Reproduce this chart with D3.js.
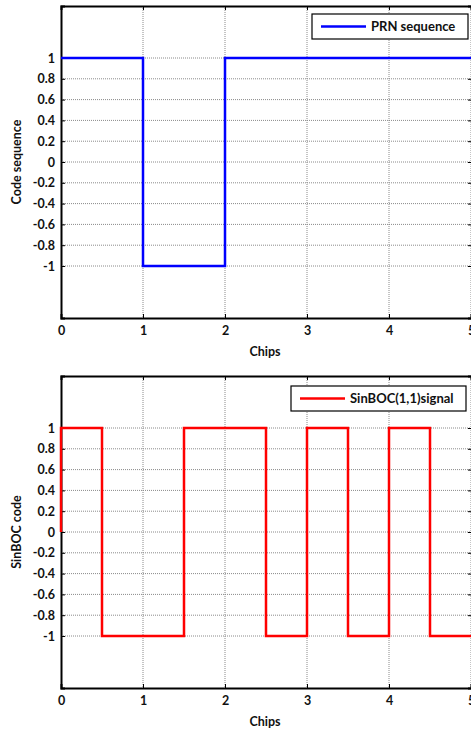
<!DOCTYPE html>
<html>
<head>
<meta charset="utf-8">
<script src="https://cdn.jsdelivr.net/npm/d3@7"></script>
<style>
  body { margin: 0; background: #fff; }
  svg text { font-family: Lato, "Open Sans", sans-serif; font-weight: bold; fill: #111; }
</style>
</head>
<body>
<div id="chart"></div>
<script>
// chip boundaries and values (step after)
var prnX = [0, 1, 2, 3, 4, 5];
var prnY = [1, -1, 1, 1, 1, 1];

var bocX = [0, 0, 0.5, 1, 1.5, 2, 2.5, 3, 3.5, 4, 4.5, 5];
var bocY = [0, 1, -1, -1, 1, 1, -1, 1, -1, 1, -1, -1];

var xTicks = [0, 1, 2, 3, 4, 5];
var yTicks = [-1, -0.8, -0.6, -0.4, -0.2, 0, 0.2, 0.4, 0.6, 0.8, 1];

var svg = d3.select("#chart")
  .append("svg")
  .attr("width", 471)
  .attr("height", 729);

function DrawPanel(opt) {
  var xScale = d3.scaleLinear().domain([0, 5]).range([opt.left, opt.right]);
  var yScale = d3.scaleLinear().domain([-1.5, 1.5]).range([opt.bottom, opt.top]);

  var g = svg.append("g");

  // grid
  g.selectAll(".hgrid")
    .data(yTicks)
    .enter()
    .append("line")
    .attr("x1", opt.left).attr("x2", opt.right)
    .attr("y1", function(d) { return yScale(d); })
    .attr("y2", function(d) { return yScale(d); })
    .attr("stroke", "#8a8a8a")
    .attr("stroke-width", 1)
    .attr("stroke-dasharray", "1,1");

  g.selectAll(".vgrid")
    .data(xTicks.slice(1))
    .enter()
    .append("line")
    .attr("y1", opt.top).attr("y2", opt.bottom)
    .attr("x1", function(d) { return xScale(d); })
    .attr("x2", function(d) { return xScale(d); })
    .attr("stroke", "#8a8a8a")
    .attr("stroke-width", 1)
    .attr("stroke-dasharray", "1,1");

  // axes
  var xAxis = d3.axisBottom(xScale).tickValues(xTicks).tickSize(-4).tickPadding(8)
    .tickFormat(function(d) { return String(d); });
  var xTop = d3.axisTop(xScale).tickValues(xTicks).tickSize(-4).tickFormat("");
  var yAxis = d3.axisLeft(yScale).tickValues(yTicks).tickSize(-4).tickPadding(6)
    .tickFormat(function(d) { return String(d); });
  var yRight = d3.axisRight(yScale).tickValues(yTicks).tickSize(-4).tickFormat("");

  var gx = g.append("g")
    .attr("transform", "translate(0," + opt.bottom + ")")
    .call(xAxis);
  var gxt = g.append("g")
    .attr("transform", "translate(0," + opt.top + ")")
    .call(xTop);
  var gy = g.append("g")
    .attr("transform", "translate(" + opt.left + ",0)")
    .call(yAxis);
  var gyr = g.append("g")
    .attr("transform", "translate(" + (opt.right + 1) + ",0)")
    .call(yRight);

  [gx, gxt, gy, gyr].forEach(function(a) {
    a.select(".domain").attr("stroke", "#000").attr("stroke-width", 2);
    a.selectAll(".tick line").attr("stroke", "#000").attr("stroke-width", 1);
    a.selectAll("text").style("font-size", "12.5px").attr("fill", "#111");
  });

  // signal
  var line = d3.line()
    .x(function(d) { return xScale(d[0]); })
    .y(function(d) { return yScale(d[1]); })
    .curve(d3.curveStepAfter);

  g.append("path")
    .datum(d3.zip(opt.xs, opt.ys))
    .attr("d", line)
    .attr("fill", "none")
    .attr("stroke", opt.color)
    .attr("stroke-width", 2.5);

  // labels
  g.append("text")
    .attr("x", (opt.left + opt.right) / 2 - 1)
    .attr("y", opt.bottom + 38)
    .attr("text-anchor", "middle")
    .style("font-size", "12.5px")
    .text("Chips");

  g.append("text")
    .attr("transform", "translate(21," + ((opt.top + opt.bottom) / 2) + ") rotate(-90)")
    .attr("text-anchor", "middle")
    .style("font-size", "12.5px")
    .text(opt.ylabel);

  // legend: [x, y, width, line length]
  var lg = g.append("g");
  lg.append("rect")
    .attr("x", opt.legend[0]).attr("y", opt.legend[1])
    .attr("width", opt.legend[2]).attr("height", 25)
    .attr("fill", "#fff")
    .attr("stroke", "#000")
    .attr("stroke-width", 1.2);
  lg.append("line")
    .attr("x1", opt.legend[0] + 9).attr("x2", opt.legend[0] + 9 + opt.legend[3])
    .attr("y1", opt.legend[1] + 12.5).attr("y2", opt.legend[1] + 12.5)
    .attr("stroke", opt.color)
    .attr("stroke-width", 2.5);
  lg.append("text")
    .attr("x", opt.legend[0] + 14 + opt.legend[3])
    .attr("y", opt.legend[1] + 17)
    .style("font-size", "13px")
    .text(opt.name);
}

DrawPanel({
  left: 61, right: 471, top: 6, bottom: 318,
  xs: prnX, ys: prnY, color: "#0000ff",
  ylabel: "Code sequence", name: "PRN sequence",
  legend: [312, 14, 156, 45]
});

DrawPanel({
  left: 61, right: 471, top: 376, bottom: 688,
  xs: bocX, ys: bocY, color: "#ff0000",
  ylabel: "SinBOC code", name: "SinBOC(1,1)signal",
  legend: [291, 386, 175, 45]
});
</script>
</body>
</html>
